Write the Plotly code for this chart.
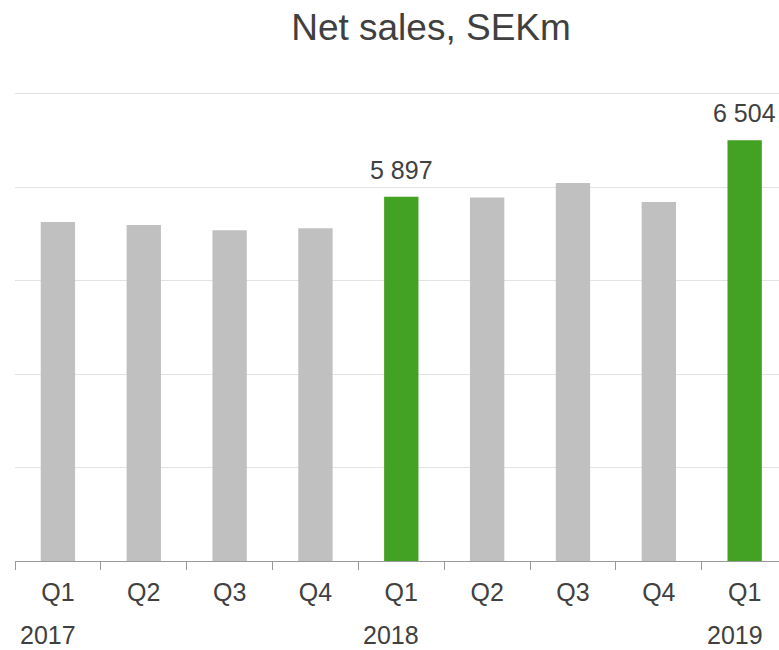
import plotly.graph_objects as go

quarters = ["Q1", "Q2", "Q3", "Q4", "Q1", "Q2", "Q3", "Q4", "Q1"]
years = ["2017", "", "", "", "2018", "", "", "", "2019"]
net_sales = [5627, 5595, 5541, 5562, 5897, 5890, 6046, 5842, 6504]
highlight = [False, False, False, False, True, False, False, False, True]

GRAY = "#c0c0c0"
GREEN = "#43a123"
TEXT = "#404040"
FONT = "Liberation Sans, Arial, sans-serif"

# unique category keys (year + quarter)
yr_running = []
cur = ""
for y in years:
    cur = y or cur
    yr_running.append(cur)
cats = [f"{y} {q}" for y, q in zip(yr_running, quarters)]
colors = [GREEN if h else GRAY for h in highlight]

W, H = 779, 650

fig = go.Figure()
fig.add_trace(go.Bar(
    x=cats, y=net_sales, marker=dict(color=colors, line=dict(width=0)),
    width=0.4, hoverinfo="skip",
))

annotations = []
for c, v, h in zip(cats, net_sales, highlight):
    if h:
        annotations.append(dict(
            x=c, y=v, xref="x", yref="y", text=f"{v:,}".replace(",", " "),
            showarrow=False, yanchor="bottom", yshift=11,
            font=dict(family=FONT, size=25, color=TEXT)))
for c, yr in zip(cats, years):
    if yr:
        annotations.append(dict(
            x=c, y=0, xref="x", yref="paper", text=yr, showarrow=False,
            yanchor="middle", yshift=-74, xshift=-10,
            font=dict(family=FONT, size=25, color=TEXT)))

fig.update_layout(
    width=W, height=H,
    margin=dict(l=15, r=0, t=91, b=89, autoexpand=False),
    paper_bgcolor="white", plot_bgcolor="white",
    showlegend=False,
    title=dict(text="Net sales, SEKm", x=431/W, xref="container", xanchor="center",
               y=1-27/H, yref="container", yanchor="middle",
               font=dict(family=FONT, size=37, color=TEXT)),
    annotations=annotations,
    xaxis=dict(
        type="category",
        tickmode="array", tickvals=cats, ticktext=quarters,
        range=[-0.5, 8.4], showgrid=False, zeroline=False,
        showline=True, linecolor="#999999", linewidth=1,
        ticks="outside", ticklen=8, tickcolor="#999999",
        tickson="boundaries",
        tickfont=dict(family=FONT, size=25, color=TEXT),
        ticklabelstandoff=9,
    ),
    yaxis=dict(
        range=[2000, 7030], dtick=1000, tick0=0, showticklabels=False,
        showgrid=True, gridcolor="#e2e2e2", gridwidth=1, zeroline=False,
        showline=False, ticks="",
    ),
    bargap=0.6,
)

fig.write_html(
    "out.html",
    config={"displayModeBar": False},
    post_script="document.body.style.margin='0';document.body.style.overflow='hidden';",
)
